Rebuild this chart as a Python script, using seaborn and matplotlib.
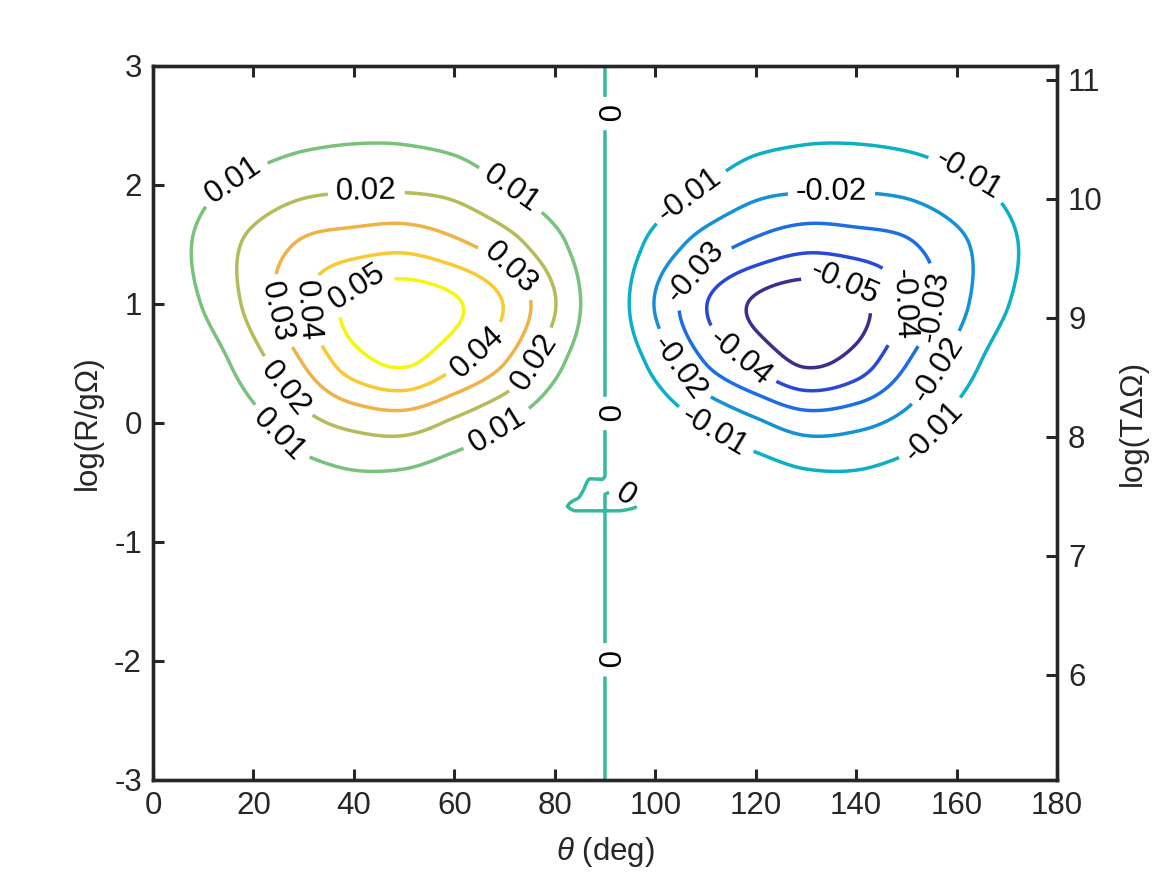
import numpy as np
import matplotlib
matplotlib.use("Agg")
import matplotlib.pyplot as plt
import seaborn as sns

# field values, left half (theta 0..90), rows are log(R/gOmega)
theta_nodes = [0, 10, 20, 30, 40, 50, 60, 70, 80, 90]
logr_nodes = [-3.0, -2.5, -2.0, -1.5, -1.0, -0.5, 0.0, 0.5, 1.0, 1.5, 2.0, 2.5, 3.0]
field_left = [
    [0.00001, 0.00002, 0.00002, 0.00003, 0.00003, 0.00003, 0.00003, 0.00002, 0.00001, 0.0],
    [0.00001, 0.00002, 0.00003, 0.00004, 0.00005, 0.00005, 0.00004, 0.00003, 0.00001, 0.0],
    [0.00002, 0.00003, 0.00005, 0.00007, 0.00008, 0.00008, 0.00006, 0.00004, 0.00002, 0.0],
    [0.00003, 0.00006, 0.00010, 0.00014, 0.00015, 0.00014, 0.00008, 0.00005, 0.00002, 0.0],
    [0.00005, 0.00010, 0.00035, 0.00110, 0.00135, 0.00110, 0.00045, 0.00020, 0.00010, 0.0],
    [0.00010, 0.00030, 0.00200, 0.00510, 0.00760, 0.00700, 0.00400, 0.00220, 0.00070, 0.0],
    [0.00025, 0.00100, 0.00720, 0.01680, 0.02260, 0.02450, 0.01820, 0.01060, 0.00350, 0.0],
    [0.00110, 0.00460, 0.01600, 0.03030, 0.04550, 0.05120, 0.04180, 0.03000, 0.01270, 0.0],
    [0.00250, 0.01050, 0.02350, 0.03900, 0.05300, 0.05650, 0.05150, 0.03950, 0.02050, 0.0],
    [0.00300, 0.01220, 0.02260, 0.03150, 0.03520, 0.03700, 0.03220, 0.02450, 0.01300, 0.0],
    [0.00190, 0.00770, 0.01250, 0.01680, 0.01820, 0.01800, 0.01620, 0.01000, 0.00400, 0.0],
    [0.00070, 0.00270, 0.00400, 0.00600, 0.00720, 0.00720, 0.00530, 0.00220, 0.00060, 0.0],
    [0.00015, 0.00060, 0.00080, 0.00140, 0.00170, 0.00170, 0.00110, 0.00030, 0.00010, 0.0],
]

# small sign flip near theta = 90, log(R/gOmega) ~ -0.65 (the kink in the zero line)
kink_theta = [81, 84, 87, 90, 93, 96, 99]
kink_logr = [-0.85, -0.775, -0.7, -0.625, -0.55, -0.475, -0.4]
kink_sign = [
    [1, 1, 1, 1, 1, 1, 1],
    [1, 1, 1, 0, 1, 1, 1],
    [1, -1, -1, 0, -1, -0.15, 1],
    [1, 0.4, -1, 0, -1, 1, 1],
    [1, 1, -0.6, 0, 1, 1, 1],
    [1, 1, -0.1, 0, 1, 1, 1],
    [1, 1, 1, 1, 1, 1, 1],
]

levels = [-0.05, -0.04, -0.03, -0.02, -0.01, 0.0, 0.01, 0.02, 0.03, 0.04, 0.05]
level_colors = ["#3b2e8c", "#2a48d6", "#1d6ee3", "#1591d6", "#0cb0c6", "#35b99e",
                "#79c27b", "#b5ba5b", "#eeb247", "#f9c931", "#f5f510"]

xticks = [0, 20, 40, 60, 80, 100, 120, 140, 160, 180]
yticks_left = [-3, -2, -1, 0, 1, 2, 3]
yticks_right = [6, 7, 8, 9, 10, 11]
right_offset = 8.114


def catmull_rom_matrix(n, factor):
    n_fine = (n - 1) * factor + 1
    m = np.zeros((n_fine, n))
    for i in range(n_fine):
        u = i / factor
        k = min(int(u), n - 2)
        t = u - k
        w = [(-t + 2 * t * t - t ** 3) / 2, (2 - 5 * t * t + 3 * t ** 3) / 2,
             (t + 4 * t * t - 3 * t ** 3) / 2, (-t * t + t ** 3) / 2]
        for j, wj in zip(range(k - 1, k + 3), w):
            m[i, min(max(j, 0), n - 1)] += wj
    return m


# mirror: f(180 - theta) = -f(theta)
left = np.array(field_left)
full = np.hstack([left, -left[:, -2::-1]])
theta_full = np.array(theta_nodes + [180 - t for t in theta_nodes[-2::-1]], dtype=float)
logr = np.array(logr_nodes)

fac = 20
mt = catmull_rom_matrix(len(theta_full), fac)
mr = catmull_rom_matrix(len(logr), fac)
Z = mr @ full @ mt.T
T = mt @ theta_full
R = mr @ logr
TT, RR = np.meshgrid(T, R)
Z = np.where(TT < 90, np.maximum(Z, 1e-7), np.where(TT > 90, np.minimum(Z, -1e-7), 0.0))

ks = np.array(kink_sign, dtype=float)
tmp = np.array([np.interp(T, kink_theta, row, left=1, right=1) for row in ks])
sign_map = np.array([np.interp(R, kink_logr, tmp[:, j], left=1, right=1)
                     for j in range(len(T))]).T
Z = Z * sign_map

sns.set_theme(style="white")
plt.rcParams["font.family"] = ["Liberation Sans", "DejaVu Sans"]
plt.rcParams["mathtext.fontset"] = "custom"
plt.rcParams["mathtext.it"] = "Liberation Sans:italic"
plt.rcParams["mathtext.rm"] = "Liberation Sans"
plt.rcParams["axes.unicode_minus"] = False

axis_color = "#262626"
fs = 22.5
fig = plt.figure(figsize=(11.67, 8.75), dpi=100)
ax = fig.add_axes([0.1311, 0.1086, 0.7746, 0.8160])

cs = ax.contour(TT, RR, Z, levels=levels, colors=level_colors, linewidths=2.5)

label_pos = [
    (16.3, 2.02), (71.7, 1.99), (25.6, -0.08), (68.4, -0.05),
    (42.5, 1.905), (76.4, 0.5), (26.3, 0.29),
    (70.6, 1.27), (25.0, 0.935),
    (31.1, 0.95), (64.5, 0.6),
    (41.4, 1.076),
    (106.6, 1.93), (161.7, 2.03), (111.6, -0.09), (154.7, -0.05),
    (135.1, 1.905), (154.4, 0.5), (104.6, 0.46),
    (108.5, 1.25), (154.4, 0.99),
    (147.4, 1.0), (116.5, 0.53),
    (136.8, 1.06),
    (90.0, 2.6), (90.0, 0.08), (90.0, -1.99), (94.0, -0.61),
]
ax.clabel(cs, inline=True, fontsize=fs, colors="black", manual=label_pos,
          fmt=lambda v: "0" if abs(v) < 1e-9 else f"{v:g}", inline_spacing=8)

ax.set_xlim(0, 180)
ax.set_ylim(-3, 3)
ax.set_xticks(xticks)
ax.set_yticks(yticks_left)
ax.set_xlabel(r"$\theta$ (deg)", fontsize=fs, color=axis_color, labelpad=10)
ax.set_ylabel("log(R/gΩ)", fontsize=fs, color=axis_color, labelpad=8)
ax.tick_params(axis="x", direction="in", length=7.7, width=2.2, top=True, bottom=True,
               labelsize=fs, colors=axis_color, pad=8)
ax.tick_params(axis="y", direction="in", length=7.7, width=2.2, left=True, right=False,
               labelsize=fs, colors=axis_color, pad=8)
for sp in ax.spines.values():
    sp.set_linewidth(2.4)
    sp.set_color(axis_color)

ax2 = ax.twinx()
ax2.set_ylim(-3 + right_offset, 3 + right_offset)
ax2.set_yticks(yticks_right)
ax2.set_ylabel("log(TΔΩ)", fontsize=fs, color=axis_color, labelpad=11)
ax2.tick_params(axis="y", direction="in", length=7.7, width=2.2, labelsize=fs,
                colors=axis_color, pad=8)
for sp in ax2.spines.values():
    sp.set_linewidth(2.4)
    sp.set_color(axis_color)

fig.savefig("out.png", dpi=100)
